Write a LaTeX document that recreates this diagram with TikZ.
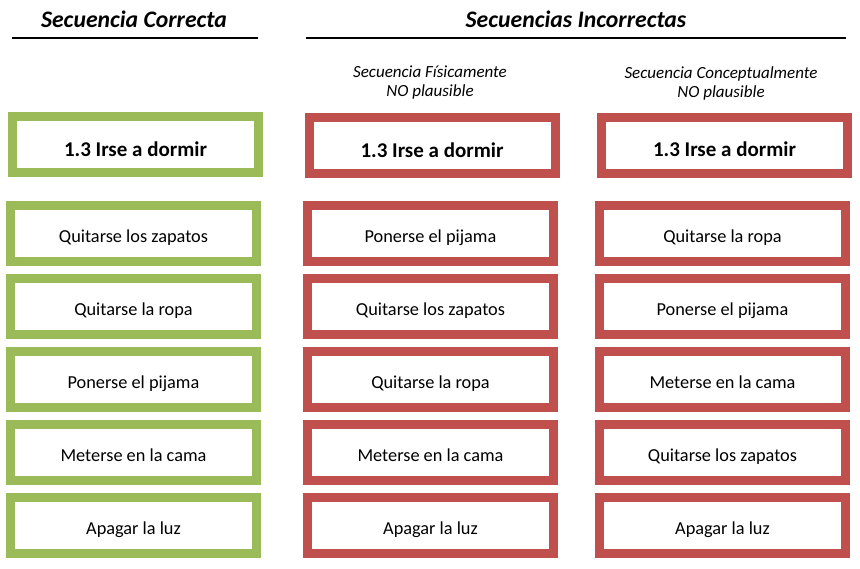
\documentclass[tikz,border=0pt]{standalone}
\usepackage{fontspec}
\setmainfont{Carlito}
\usepackage{xcolor}
\usepackage{tikz}
\definecolor{okgreen}{HTML}{9BBB59}
\definecolor{badred}{HTML}{C0504D}
\tikzset{
  stepbox/.style={draw, line width=9pt, fill=white, minimum width=246pt, minimum height=56pt,
    inner sep=0pt, text height=21.2pt, text depth=3.6pt, font=\fontsize{18.3}{21}\selectfont},
  titlebox/.style={stepbox, text height=27.4pt, text depth=4pt, font=\bfseries\fontsize{21}{24}\selectfont},
  header/.style={font=\bfseries\itshape\fontsize{23.7}{27}\selectfont},
  subheader/.style={align=center, font=\itshape\fontsize{17}{19}\selectfont},
}

\begin{document}
\begin{tikzpicture}[x=1pt, y=-1pt]
\useasboundingbox (0,0) rectangle (860,568);
%%%%% Headers %%%%%
\node[header] (hok) at (134,19) {Secuencia Correcta};
\node[header] (hbad) at (576,19) {Secuencias Incorrectas};
\draw[line width=1.5pt] (12,38)--(258,38);
\draw[line width=1.5pt] (306,38)--(846,38);
\node[subheader] (hphys) at (430,83) {Secuencia Físicamente\\NO plausible};
\node[subheader] (hconc) at (721,83) {Secuencia Conceptualmente\\NO plausible};
%%%%% Title boxes %%%%%
\node[titlebox, draw=okgreen] (t1) at (135.5,144.5) {1.3 Irse a dormir};
\node[titlebox, draw=badred] (t2) at (432,145.5) {1.3 Irse a dormir};
\node[titlebox, draw=badred] (t3) at (724.5,145) {1.3 Irse a dormir};
%%%%% Steps %%%%%
\foreach \txt [count=\i] in {Quitarse los zapatos, Quitarse la ropa, Ponerse el pijama, Meterse en la cama, Apagar la luz}{
\node[stepbox, draw=okgreen] (c1-\i) at (133.5,160.5+73*\i) {\txt};
}
\foreach \txt [count=\i] in {Ponerse el pijama, Quitarse los zapatos, Quitarse la ropa, Meterse en la cama, Apagar la luz}{
\node[stepbox, draw=badred] (c2-\i) at (430.5,160.5+73*\i) {\txt};
}
\foreach \txt [count=\i] in {Quitarse la ropa, Ponerse el pijama, Meterse en la cama, Quitarse los zapatos, Apagar la luz}{
\node[stepbox, draw=badred] (c3-\i) at (722.5,160.5+73*\i) {\txt};
}
\end{tikzpicture}
\end{document}
